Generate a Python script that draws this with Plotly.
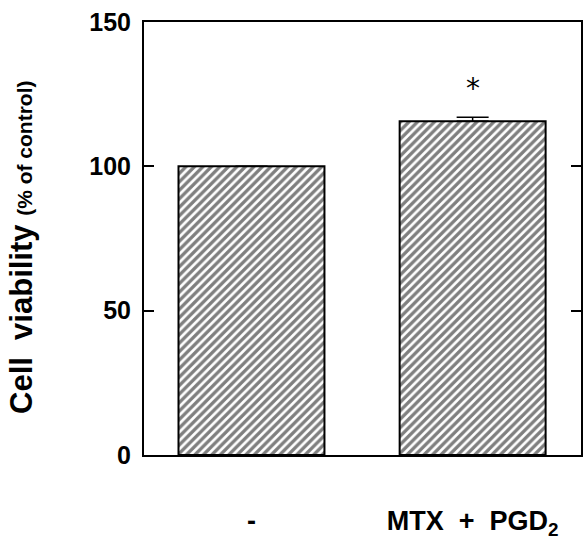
import plotly.graph_objects as go

categories = ["-", "MTX  +  PGD<sub>2</sub>"]
values = [100, 115.6]
errors = [0, 1.4]
y_ticks = [0, 50, 100, 150]
star_y = 127

FONT = "Liberation Sans, Arial, sans-serif"

fig = go.Figure()
fig.add_trace(go.Bar(
    x=[0, 1], y=values,
    width=0.66,
    marker=dict(
        color="white",
        line=dict(color="black", width=2),
        pattern=dict(shape="/", size=6, solidity=0.55, fgcolor="black", bgcolor="white"),
    ),
    error_y=dict(type="data", array=errors, symmetric=False, arrayminus=[0, 0],
                 color="black", thickness=1.5, width=16),
))

fig.add_annotation(x=1, y=star_y, text="*", showarrow=False,
                   font=dict(family="DejaVu Sans", size=28, color="black"),
                   xanchor="center", yanchor="middle")

fig.update_layout(
    width=583, height=540,
    margin=dict(l=144, r=0, t=22, b=82),
    plot_bgcolor="white", paper_bgcolor="white",
    showlegend=False,
    font=dict(family=FONT, color="black"),
)
fig.update_xaxes(
    range=[-0.486, 1.49],
    tickvals=[0, 1], ticktext=categories,
    showline=True, linecolor="black", linewidth=2, mirror=True,
    ticks="", showgrid=False, zeroline=False,
    tickfont=dict(family=FONT, size=27, weight="bold"),
    ticklabelstandoff=41,
)
fig.update_yaxes(
    range=[0, 150],
    tickvals=y_ticks,
    showline=True, linecolor="black", linewidth=2, mirror="allticks",
    ticks="inside", ticklen=10, tickwidth=1.5, tickcolor="black",
    showgrid=False, zeroline=False,
    tickfont=dict(family=FONT, size=25, weight="bold"),
    ticklabelstandoff=6,
    title=dict(
        text="<b>Cell  viability</b> <b><span style='font-size:21px'>(% of control)&nbsp;&nbsp;&nbsp;</span></b>",
        font=dict(family=FONT, size=31),
        standoff=47,
    ),
)

fig.write_html("out.html")
